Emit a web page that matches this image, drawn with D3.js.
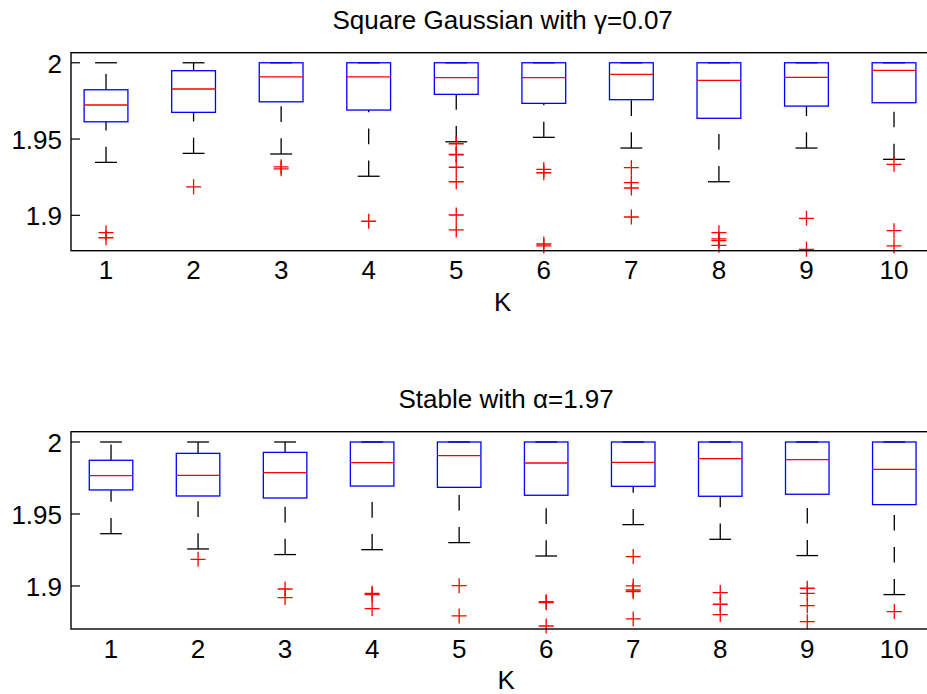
<!DOCTYPE html>
<html><head><meta charset="utf-8">
<script src="https://d3js.org/d3.v7.min.js"></script>
<style>body{margin:0;background:#fff}svg{display:block}text{font-family:"Liberation Sans",Arial,sans-serif;fill:#000}</style>
</head><body>
<script>
const K = [1,2,3,4,5,6,7,8,9,10];
const yTicks = [1.9, 1.95, 2];
const yTickLabels = ["1.9", "1.95", "2"];

// Panel 1: Square Gaussian with gamma = 0.07
const sgTitle = "Square Gaussian with \u03B3=0.07";
const sgUpper  = [2,2,2,2,2,2,2,2,2,2];
const sgQ3     = [1.9823,1.9948,2,2,2,2,2,2,2,2];
const sgMedian = [1.9723,1.9828,1.9908,1.9908,1.9902,1.9902,1.9924,1.9885,1.9904,1.9950];
const sgQ1     = [1.9613,1.9675,1.9744,1.9690,1.9793,1.9734,1.9758,1.9636,1.9716,1.9738];
const sgLower  = [1.9347,1.9406,1.9402,1.9256,1.9482,1.9511,1.9441,1.9220,1.9441,1.9367];
const sgOutliers = [[1.8886,1.8853],[1.9187],[1.9318,1.9305],[1.8961],
  [1.9469,1.9400,1.9396,1.9315,1.9220,1.9002,1.8904],[1.9301,1.9279,1.8812,1.8799],
  [1.9312,1.9214,1.9179,1.8989],[1.8886,1.8845,1.8834,1.8803],[1.8980,1.8777],[1.9334,1.8899,1.8799]];

// Panel 2: Stable with alpha = 1.97
const stTitle = "Stable with \u03B1=1.97";
const stUpper  = [2,2,2,2,2,2,2,2,2,2];
const stQ3     = [1.9873,1.9921,1.9928,2,2,2,2,2,2,2];
const stMedian = [1.9766,1.9768,1.9787,1.9856,1.9905,1.9854,1.9859,1.9884,1.9877,1.9810];
const stQ1     = [1.9667,1.9625,1.9611,1.9694,1.9685,1.9630,1.9692,1.9623,1.9637,1.9565];
const stLower  = [1.9363,1.9257,1.9218,1.9252,1.9301,1.9208,1.9426,1.9324,1.9211,1.8940];
const stOutliers = [[],[1.9185],[1.8979,1.8919],[1.8949,1.8940,1.8843],[1.9002,1.8792],
  [1.8891,1.8884,1.8722],[1.9204,1.9000,1.8972,1.8960,1.8771],[1.8954,1.8873,1.8801],
  [1.8984,1.8949,1.8863,1.8752],[1.8822]];

const xLabel = "K";

const W = 927, H = 694;
const svg = d3.select("body").append("svg").attr("width", W).attr("height", H);

function panel(cfg){
  const x = d3.scaleLinear().domain(cfg.xDomain).range([cfg.left, cfg.right]);
  const y = d3.scaleLinear().domain(cfg.yDomain).range([cfg.bottom, cfg.top]);
  const g = svg.append("g");
  const bw = 0.5, cw = 0.25;

  // whiskers (dashed, drawn upward from lower value)
  K.forEach((k,i)=>{
    g.append("line").attr("x1",x(k)).attr("x2",x(k)).attr("y1",y(cfg.lower[i])).attr("y2",y(cfg.q1[i]))
      .attr("stroke","#000").attr("stroke-width",1.3).attr("stroke-dasharray","15.7,16.3");
    g.append("line").attr("x1",x(k)).attr("x2",x(k)).attr("y1",y(cfg.q3[i])).attr("y2",y(cfg.upper[i]))
      .attr("stroke","#000").attr("stroke-width",1.3).attr("stroke-dasharray","15.7,16.3");
    [cfg.lower[i], cfg.upper[i]].forEach(v=>{
      g.append("line").attr("x1",x(k-cw/2)).attr("x2",x(k+cw/2)).attr("y1",y(v)).attr("y2",y(v))
        .attr("stroke","#000").attr("stroke-width",1.3);
    });
  });
  // boxes
  K.forEach((k,i)=>{
    g.append("rect").attr("x",x(k-bw/2)).attr("width",x(k+bw/2)-x(k-bw/2))
      .attr("y",y(cfg.q3[i])).attr("height",y(cfg.q1[i])-y(cfg.q3[i]))
      .attr("fill","none").attr("stroke","#0000ff").attr("stroke-width",1.3);
    g.append("line").attr("x1",x(k-bw/2)).attr("x2",x(k+bw/2)).attr("y1",y(cfg.median[i])).attr("y2",y(cfg.median[i]))
      .attr("stroke","#ff0000").attr("stroke-width",1.3);
  });
  // outliers
  K.forEach((k,i)=>{
    cfg.outliers[i].forEach(v=>{
      const cx = x(k), cy = y(v), s = 7.5;
      g.append("path").attr("d",`M${cx-s},${cy}H${cx+s}M${cx},${cy-s}V${cy+s}`)
        .attr("stroke","#ff0000").attr("stroke-width",1.3).attr("fill","none");
    });
  });
  // axes frame
  g.append("rect").attr("x",cfg.left).attr("y",cfg.top).attr("width",cfg.right-cfg.left).attr("height",cfg.bottom-cfg.top)
    .attr("fill","none").attr("stroke","#000").attr("stroke-width",1.4);
  // y ticks (inward)
  yTicks.forEach((t,j)=>{
    g.append("line").attr("x1",cfg.left).attr("x2",cfg.left+9).attr("y1",y(t)).attr("y2",y(t))
      .attr("stroke","#000").attr("stroke-width",1.2);
    g.append("text").attr("x",cfg.left-9).attr("y",y(t)+10).attr("text-anchor","end")
      .style("font-size","26px").text(yTickLabels[j]);
  });
  // x tick labels
  K.forEach(k=>{
    g.append("text").attr("x",x(k)).attr("y",cfg.bottom+28.5).attr("text-anchor","middle")
      .style("font-size","26px").text(String(k));
  });
  const cx = (cfg.left+cfg.right)/2;
  g.append("text").attr("x",cx).attr("y",cfg.bottom+60).attr("text-anchor","middle")
    .style("font-size","26px").text(xLabel);
  g.append("text").attr("x",cx).attr("y",cfg.top-23.7).attr("text-anchor","middle")
    .style("font-size","26px").text(cfg.title);
}

panel({title:sgTitle, left:71, right:934.3, top:52.7, bottom:250.7,
  xDomain:[0.6,10.46], yDomain:[1.8768,2.0066],
  upper:sgUpper,q3:sgQ3,median:sgMedian,q1:sgQ1,lower:sgLower,outliers:sgOutliers});
panel({title:stTitle, left:71, right:941.3, top:431.7, bottom:629,
  xDomain:[0.54,10.54], yDomain:[1.8701,2.00715],
  upper:stUpper,q3:stQ3,median:stMedian,q1:stQ1,lower:stLower,outliers:stOutliers});
</script>
</body></html>
